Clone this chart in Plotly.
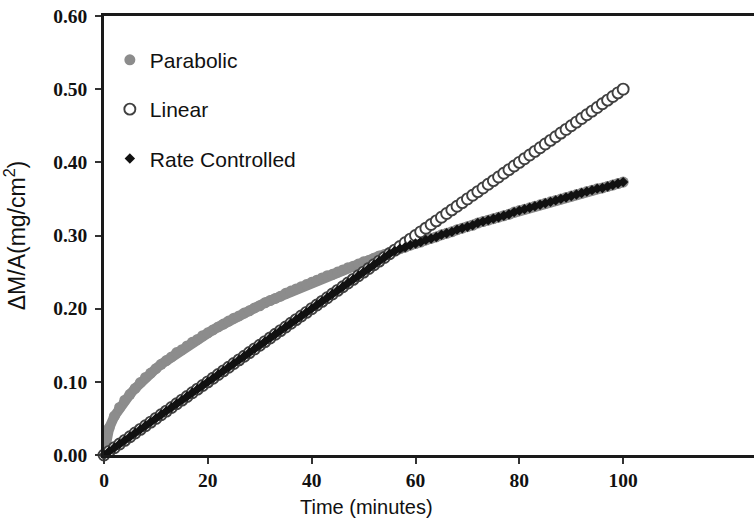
import plotly.graph_objects as go

time_min = [0, 1, 2, 3, 4, 5, 6, 7, 8, 9, 10, 11, 12, 13, 14, 15, 16, 17, 18, 19, 20,
            21, 22, 23, 24, 25, 26, 27, 28, 29, 30, 31, 32, 33, 34, 35, 36, 37, 38, 39, 40,
            41, 42, 43, 44, 45, 46, 47, 48, 49, 50, 51, 52, 53, 54, 55, 56, 57, 58, 59, 60,
            61, 62, 63, 64, 65, 66, 67, 68, 69, 70, 71, 72, 73, 74, 75, 76, 77, 78, 79, 80,
            81, 82, 83, 84, 85, 86, 87, 88, 89, 90, 91, 92, 93, 94, 95, 96, 97, 98, 99, 100]

parabolic = [0.000, 0.037, 0.053, 0.065, 0.075, 0.083, 0.091, 0.099, 0.106, 0.112, 0.118,
             0.124, 0.129, 0.134, 0.140, 0.144, 0.149, 0.154, 0.158, 0.163, 0.167,
             0.171, 0.175, 0.179, 0.183, 0.187, 0.190, 0.194, 0.197, 0.201, 0.204,
             0.208, 0.211, 0.214, 0.217, 0.221, 0.224, 0.227, 0.230, 0.233, 0.236,
             0.239, 0.242, 0.245, 0.247, 0.250, 0.253, 0.256, 0.258, 0.261, 0.264,
             0.266, 0.269, 0.272, 0.274, 0.277, 0.279, 0.282, 0.284, 0.287, 0.289,
             0.291, 0.294, 0.296, 0.298, 0.301, 0.303, 0.305, 0.308, 0.310, 0.312,
             0.314, 0.317, 0.319, 0.321, 0.323, 0.325, 0.327, 0.329, 0.332, 0.334,
             0.336, 0.338, 0.340, 0.342, 0.344, 0.346, 0.348, 0.350, 0.352, 0.354,
             0.356, 0.358, 0.360, 0.362, 0.364, 0.365, 0.367, 0.369, 0.371, 0.373]

linear = [0.000, 0.005, 0.010, 0.015, 0.020, 0.025, 0.030, 0.035, 0.040, 0.045, 0.050,
          0.055, 0.060, 0.065, 0.070, 0.075, 0.080, 0.085, 0.090, 0.095, 0.100,
          0.105, 0.110, 0.115, 0.120, 0.125, 0.130, 0.135, 0.140, 0.145, 0.150,
          0.155, 0.160, 0.165, 0.170, 0.175, 0.180, 0.185, 0.190, 0.195, 0.200,
          0.205, 0.210, 0.215, 0.220, 0.225, 0.230, 0.235, 0.240, 0.245, 0.250,
          0.255, 0.260, 0.265, 0.270, 0.275, 0.280, 0.285, 0.290, 0.295, 0.300,
          0.305, 0.310, 0.315, 0.320, 0.325, 0.330, 0.335, 0.340, 0.345, 0.350,
          0.355, 0.360, 0.365, 0.370, 0.375, 0.380, 0.385, 0.390, 0.395, 0.400,
          0.405, 0.410, 0.415, 0.420, 0.425, 0.430, 0.435, 0.440, 0.445, 0.450,
          0.455, 0.460, 0.465, 0.470, 0.475, 0.480, 0.485, 0.490, 0.495, 0.500]

rate_controlled = [0.000, 0.005, 0.010, 0.015, 0.020, 0.025, 0.030, 0.035, 0.040, 0.045, 0.050,
                   0.055, 0.060, 0.065, 0.070, 0.075, 0.080, 0.085, 0.090, 0.095, 0.100,
                   0.105, 0.110, 0.115, 0.120, 0.125, 0.130, 0.135, 0.140, 0.145, 0.150,
                   0.155, 0.160, 0.165, 0.170, 0.175, 0.180, 0.185, 0.190, 0.195, 0.200,
                   0.205, 0.210, 0.215, 0.220, 0.225, 0.230, 0.235, 0.240, 0.245, 0.250,
                   0.255, 0.260, 0.265, 0.270, 0.275, 0.279, 0.282, 0.284, 0.287, 0.289,
                   0.291, 0.294, 0.296, 0.298, 0.301, 0.303, 0.305, 0.308, 0.310, 0.312,
                   0.314, 0.317, 0.319, 0.321, 0.323, 0.325, 0.327, 0.329, 0.332, 0.334,
                   0.336, 0.338, 0.340, 0.342, 0.344, 0.346, 0.348, 0.350, 0.352, 0.354,
                   0.356, 0.358, 0.360, 0.362, 0.364, 0.365, 0.367, 0.369, 0.371, 0.373]

x_ticks = [0, 20, 40, 60, 80, 100]
y_ticks = [0.0, 0.1, 0.2, 0.3, 0.4, 0.5, 0.6]
y_tick_text = ["0.00", "0.10", "0.20", "0.30", "0.40", "0.50", "0.60"]

fig = go.Figure()
# dense parabolic band (markers blend into a solid grey band)
fig.add_trace(go.Scatter(
    x=time_min, y=parabolic, mode="lines", showlegend=False, hoverinfo="skip",
    line=dict(color="#8c8c8c", width=10), cliponaxis=False))
fig.add_trace(go.Scatter(
    x=time_min, y=parabolic, mode="markers", name="Parabolic", legendgroup="a",
    marker=dict(symbol="circle", size=11, color="#8c8c8c", line=dict(width=0)),
    cliponaxis=False))
fig.add_trace(go.Scatter(
    x=time_min, y=linear, mode="markers", name="Linear", legendgroup="b",
    marker=dict(symbol="circle", size=11, color="white", line=dict(width=1.9, color="#404040")),
    cliponaxis=False))
fig.add_trace(go.Scatter(
    x=time_min, y=rate_controlled, mode="markers", name="Rate Controlled", legendgroup="c",
    marker=dict(symbol="diamond", size=8, color="#111111", line=dict(width=0)),
    cliponaxis=False))

tickfont = dict(family="Liberation Serif", size=19.5, color="#111111", weight="bold")

fig.update_layout(
    width=754, height=523,
    margin=dict(l=104, r=0, t=16, b=68),
    paper_bgcolor="white", plot_bgcolor="white",
    showlegend=True,
    legend=dict(x=0.009, y=0.946, xanchor="left", yanchor="top",
                font=dict(family="Liberation Sans", size=21, color="#111111"),
                bgcolor="rgba(0,0,0,0)", tracegroupgap=19, itemsizing="trace"),
    xaxis=dict(range=[0, 125.2], tickvals=x_ticks, ticks="outside", ticklen=6, tickwidth=1.5,
               tickcolor="#333333", showline=True, linewidth=2.5, linecolor="#1a1a1a",
               mirror=True, showgrid=False, zeroline=False, tickfont=tickfont,
               ticklabeloverflow="allow"),
    yaxis=dict(range=[0, 0.6], tickvals=y_ticks, ticktext=y_tick_text, ticks="outside",
               ticklen=6, tickwidth=1.5, tickcolor="#333333", showline=True, linewidth=2.5,
               linecolor="#1a1a1a", showgrid=False, zeroline=False, tickfont=tickfont,
               ticklabelstandoff=4, automargin=False, ticklabeloverflow="allow",
               title=dict(text="ΔM/A(mg/cm<sup>2</sup>)", standoff=35,
                          font=dict(family="Liberation Sans", size=23, color="#111111"))),
    annotations=[dict(text="Time (minutes)", x=50.5, xref="x", y=-0.118, yref="paper",
                      xanchor="center", yanchor="middle", showarrow=False,
                      font=dict(family="Liberation Sans", size=20, color="#111111"))],
)

fig.write_html("out.html", config={"displayModeBar": False},
               post_script="document.body.style.margin='0';document.body.style.overflow='hidden';")
